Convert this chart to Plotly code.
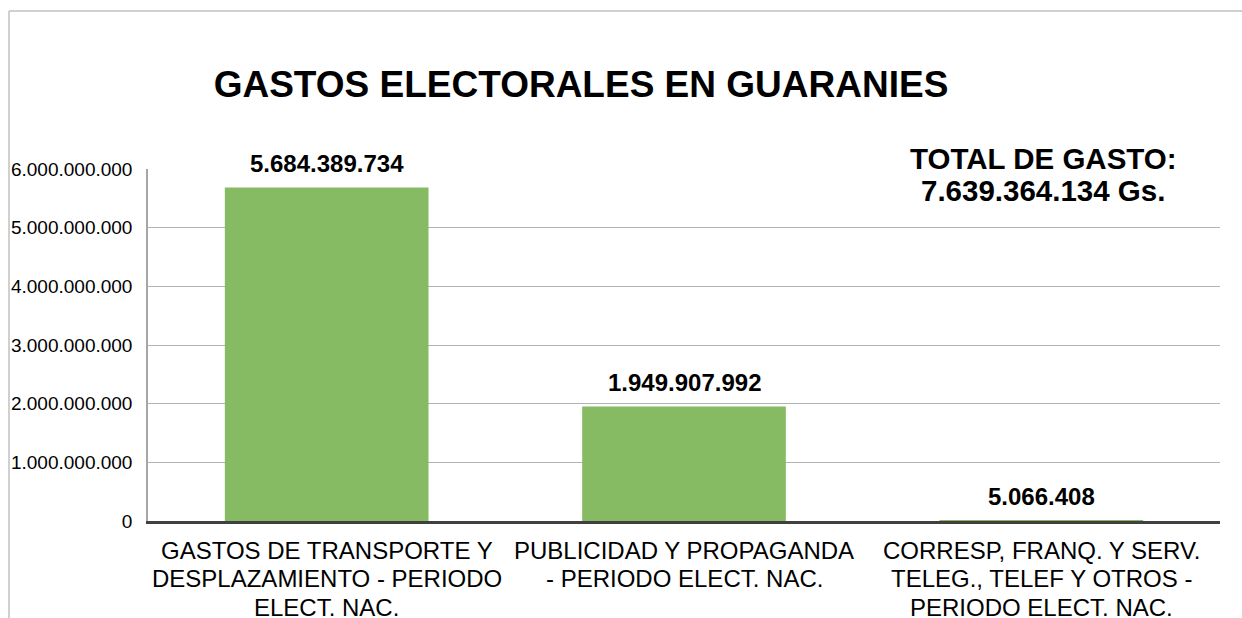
import plotly.graph_objects as go

categories = [
    "GASTOS DE TRANSPORTE Y<br>DESPLAZAMIENTO - PERIODO<br>ELECT. NAC.",
    "PUBLICIDAD Y PROPAGANDA<br>- PERIODO ELECT. NAC.",
    "CORRESP, FRANQ. Y SERV.<br>TELEG., TELEF Y OTROS -<br>PERIODO ELECT. NAC.",
]
values = [5684389734, 1949907992, 5066408]
y_ticks = [0, 1000000000, 2000000000, 3000000000, 4000000000, 5000000000, 6000000000]
title_text = "GASTOS ELECTORALES EN GUARANIES"
total_lines = ["TOTAL DE GASTO:", "7.639.364.134 Gs."]


def fmt(v):
    return f"{v:,}".replace(",", ".")


W, H = 1242, 618
L, R, T, B = 148, 22, 169, 97
pw, ph = W - L - R, H - T - B
FONT = "Liberation Sans, Arial"

fig = go.Figure()
fig.add_trace(go.Bar(
    x=categories, y=values,
    marker=dict(color="#86BB64", line=dict(width=0)),
    width=0.57,
    hoverinfo="skip",
))

for c, v in zip(categories, values):
    fig.add_annotation(
        x=c, y=v, xref="x", yref="y", text=f"<b>{fmt(v)}</b>",
        showarrow=False, yanchor="middle", yshift=24,
        font=dict(family=FONT, size=24, color="#000000"),
    )
    # category label, one annotation per line for Excel-like line spacing
    for i, part in enumerate(c.split("<br>")):
        fig.add_annotation(
            x=c, y=0, xref="x", yref="y", text=part,
            showarrow=False, yanchor="middle", xanchor="center",
            yshift=-(29 + 28.5 * i),
            font=dict(family=FONT, size=24, color="#000000"),
        )

for line, py in zip(total_lines, [158, 190]):
    fig.add_annotation(
        x=(1043 - L) / pw, y=(H - B - py) / ph, xref="paper", yref="paper",
        text=f"<b>{line}</b>", showarrow=False, xanchor="center", yanchor="middle",
        font=dict(family=FONT, size=29.5, color="#000000"),
    )

# outer frame lines
fx = (9 - L) / pw
fy = (H - B - 11) / ph
fig.add_shape(type="line", xref="paper", yref="paper", x0=fx, x1=fx, y0=-2, y1=fy,
              line=dict(color="#c0c0c0", width=1.5))
fig.add_shape(type="line", xref="paper", yref="paper", x0=fx, x1=2, y0=fy, y1=fy,
              line=dict(color="#c0c0c0", width=1.5))

fig.update_layout(
    width=W, height=H,
    margin=dict(l=L, r=R, t=T, b=B, autoexpand=False),
    paper_bgcolor="white", plot_bgcolor="white",
    showlegend=False,
    title=dict(
        text=f"<b>{title_text}</b>", x=581 / W, y=1 - 84 / H,
        xanchor="center", yanchor="middle", xref="container", yref="container",
        font=dict(family=FONT, size=37, color="#000000"),
    ),
    bargap=0.43,
)
fig.update_yaxes(
    range=[0, 6000000000], tickvals=y_ticks, ticktext=[fmt(t) for t in y_ticks],
    showgrid=True, gridcolor="#b3b3b3", gridwidth=1,
    showline=True, linecolor="#a6a6a6", linewidth=1.5,
    ticks="", ticklabelstandoff=10, zeroline=False, automargin=False,
    tickfont=dict(family=FONT, size=19, color="#000000"),
)
fig.update_xaxes(
    showline=True, linecolor="#404040", linewidth=3,
    ticks="", showgrid=False, showticklabels=False, automargin=False,
)

fig.write_html("out.html", config={"displayModeBar": False},
               post_script="document.body.style.margin='0';")
